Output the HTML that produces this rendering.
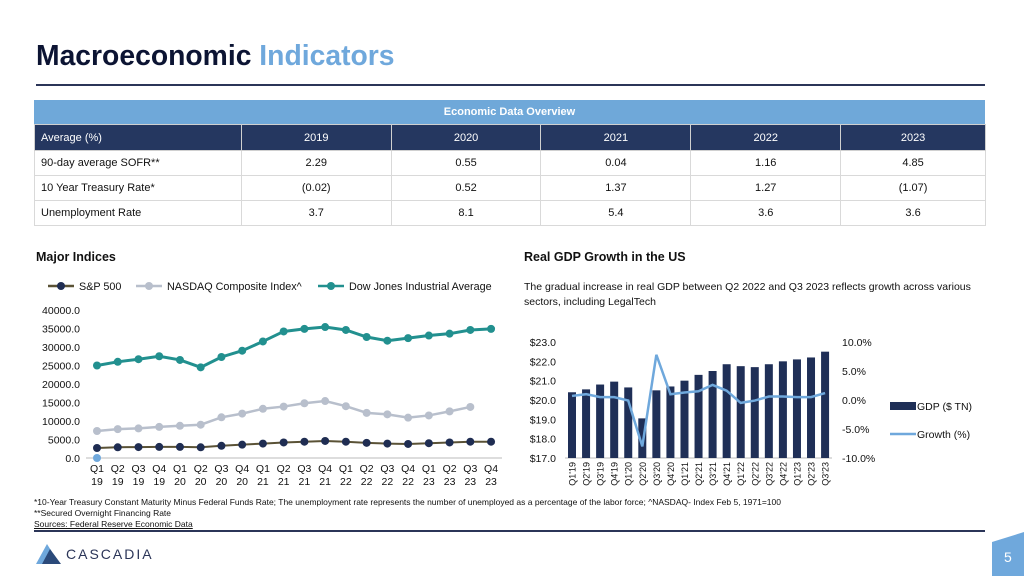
<!DOCTYPE html>
<html><head><meta charset="utf-8">
<style>
body{margin:0;width:1024px;height:576px;overflow:hidden;background:#fff;font-family:"Liberation Sans",sans-serif;position:relative}
.abs{position:absolute}
table{border-collapse:collapse;font-size:11px;color:#111}
td{border:1px solid #d9d9d9;height:24px;padding:0;text-align:center}
td.l{text-align:left;padding-left:6px}
tr.h td{background:#253760;color:#fff;border-color:#d0d0d0}
</style></head><body>
<div class="abs" style="left:36px;top:39px;font-size:28.3px;font-weight:bold;color:#0c1433">Macroeconomic <span style="color:#6fa8dc">Indicators</span></div>
<div class="abs" style="left:36px;top:84px;width:949px;height:2px;background:#2b3558"></div>
<div class="abs" style="left:34px;top:100px;width:951px;height:24px;background:#6fa8d9;color:#fff;font-weight:bold;font-size:11px;text-align:center;line-height:24px">Economic Data Overview</div>
<table class="abs" style="left:34px;top:124px;width:952px">
<colgroup><col style="width:207px"><col style="width:150px"><col style="width:150px"><col style="width:150px"><col style="width:150px"><col style="width:145px"></colgroup>
<tr class="h" style="height:26px"><td class="l">Average (%)</td><td>2019</td><td>2020</td><td>2021</td><td>2022</td><td>2023</td></tr>
<tr><td class="l">90-day average SOFR**</td><td>2.29</td><td>0.55</td><td>0.04</td><td>1.16</td><td>4.85</td></tr>
<tr><td class="l">10 Year Treasury Rate*</td><td>(0.02)</td><td>0.52</td><td>1.37</td><td>1.27</td><td>(1.07)</td></tr>
<tr><td class="l">Unemployment Rate</td><td>3.7</td><td>8.1</td><td>5.4</td><td>3.6</td><td>3.6</td></tr>
</table>
<div class="abs" style="left:36px;top:250px;font-size:12.5px;font-weight:bold;color:#111">Major Indices</div>
<div class="abs" style="left:524px;top:250px;font-size:12.5px;font-weight:bold;color:#111">Real GDP Growth in the US</div>
<div class="abs" style="left:524px;top:280px;width:470px;font-size:10.5px;line-height:15px;color:#111">The gradual increase in real GDP between Q2 2022 and Q3 2023 reflects growth across various sectors, including LegalTech</div>
<svg class="abs" id="left" style="left:0;top:270px" width="512" height="225"></svg>
<svg class="abs" id="right" style="left:512px;top:320px" width="480" height="175"></svg>
<div class="abs" style="left:34px;top:497px;font-size:8.5px;line-height:11px;color:#111">*10-Year Treasury Constant Maturity Minus Federal Funds Rate; The unemployment rate represents the number of unemployed as a percentage of the labor force; ^NASDAQ- Index Feb 5, 1971=100<br>**Secured Overnight Financing Rate<br><span style="text-decoration:underline">Sources: Federal Reserve Economic Data</span></div>
<div class="abs" style="left:34px;top:530px;width:951px;height:2px;background:#2b3558"></div>
<svg class="abs" style="left:34px;top:540px" width="130" height="26">
<polygon points="2,24 13,4 18,12 10,24" fill="#6fa8dc"/><polygon points="8,24 16,9 27,24" fill="#2b4a7a"/>
<text x="32" y="19" font-family="Liberation Sans" font-size="14" letter-spacing="2" fill="#2b3558">CASCADIA</text></svg>
<svg class="abs" style="left:992px;top:532px" width="32" height="44">
<polygon points="0,10 32,0 32,44 0,44" fill="#6fa8dc"/><text x="12" y="30" font-family="Liberation Sans" font-size="14" fill="#fff">5</text></svg>
<script>
const NS="http://www.w3.org/2000/svg";
function mk(p,t,a){const e=document.createElementNS(NS,t);for(const k in a)e.setAttribute(k,a[k]);p.appendChild(e);return e;}
// Left chart data
const qLabels=["Q1","Q2","Q3","Q4","Q1","Q2","Q3","Q4","Q1","Q2","Q3","Q4","Q1","Q2","Q3","Q4","Q1","Q2","Q3","Q4"];
const yLabels=["19","19","19","19","20","20","20","20","21","21","21","21","22","22","22","22","23","23","23","23"];
const dow=[25000,26000,26700,27500,26500,24500,27300,29000,31500,34200,34900,35400,34600,32700,31700,32400,33100,33600,34600,34900];
const nasdaq=[7300,7800,8000,8400,8700,9000,11000,12000,13300,13900,14800,15400,14000,12200,11800,10900,11500,12600,13800];
const sp=[2700,2900,2950,3000,3000,2900,3300,3600,3900,4200,4400,4600,4400,4100,3900,3800,4000,4200,4400,4400];
const leftTicks=[0,5000,10000,15000,20000,25000,30000,35000,40000];
// Right chart data
const gdpCats=["Q1'19","Q2'19","Q3'19","Q4'19","Q1'20","Q2'20","Q3'20","Q4'20","Q1'21","Q2'21","Q3'21","Q4'21","Q1'22","Q2'22","Q3'22","Q4'22","Q1'23","Q2'23","Q3'23"];
const gdp=[20.4,20.55,20.8,20.95,20.65,19.05,20.5,20.7,21.0,21.3,21.5,21.85,21.75,21.7,21.85,22.0,22.1,22.2,22.5];
const growth=[0.7,1.0,0.5,0.5,-0.1,-8.0,7.8,1.0,1.3,1.5,2.6,1.6,-0.5,-0.1,0.6,0.6,0.5,0.5,1.2];
const gdpTicks=[17,18,19,20,21,22,23];
const growthTicks=[-10,-5,0,5,10];

(function(){
const s=document.getElementById('left');
const x=i=>97+i*20.74, y=v=>188-v/40000*148;
leftTicks.forEach(t=>{const e=mk(s,'text',{x:80,y:y(t)+4,'text-anchor':'end','font-size':10.5,fill:'#111'});e.textContent=t.toFixed(1);
});
const ax=mk(s,'line',{x1:86,x2:502,y1:y(0),y2:y(0),stroke:'#bbb'});

qLabels.forEach((q,i)=>{const e=mk(s,'text',{x:x(i),y:y(0)+14,'text-anchor':'middle','font-size':10.5,fill:'#111'});e.textContent=q;

const f=mk(s,'text',{x:x(i),y:y(0)+27,'text-anchor':'middle','font-size':10.5,fill:'#111'});f.textContent=yLabels[i];
});
function series(d,col,lc,name,w){const p=mk(s,'polyline',{points:d.map((v,i)=>x(i)+','+y(v)).join(' '),fill:'none',stroke:lc,'stroke-width':w});

d.forEach((v,i)=>{const c=mk(s,'circle',{cx:x(i),cy:y(v),r:4,fill:col});});}
series(dow,'#22908f','#22908f','dow',3);
series(nasdaq,'#b8bfcc','#b8bfcc','nasdaq',2.5);
series(sp,'#1f2d52','#5a5236','sp500',2);
const z=mk(s,'circle',{cx:x(0),cy:y(0),r:4,fill:'#6fa8dc'});
const leg=[['S&P 500','#1f2d52','#5a5236',48],['NASDAQ Composite Index^','#b8bfcc','#b8bfcc',136],['Dow Jones Industrial Average','#22908f','#22908f',318]];
leg.forEach(l=>{const g=mk(s,'g',{});
mk(g,'line',{x1:l[3],x2:l[3]+26,y1:16,y2:16,stroke:l[2],'stroke-width':2.5});mk(g,'circle',{cx:l[3]+13,cy:16,r:4,fill:l[1]});
const t=mk(g,'text',{x:l[3]+31,y:20,'font-size':10.8,fill:'#111'});t.textContent=l[0];});
})();
(function(){
const s=document.getElementById('right');
const x=i=>60+i*14.06, y=v=>22+(23-v)/6*116, y2=v=>22+(10-v)/20*116, b=y(17);
gdpTicks.forEach(t=>{const e=mk(s,'text',{x:44,y:y(t)+4,'text-anchor':'end','font-size':10.5,fill:'#111'});e.textContent='$'+t.toFixed(1);
});
growthTicks.forEach(t=>{const e=mk(s,'text',{x:330,y:y2(t)+4,'font-size':10.5,fill:'#111'});e.textContent=t.toFixed(1)+'%';
});
const ax=mk(s,'line',{x1:53,x2:320,y1:b,y2:b,stroke:'#bbb'});
gdp.forEach((v,i)=>{const r=mk(s,'rect',{x:x(i)-4,y:y(v),width:8,height:b-y(v),fill:'#1f2f57'});
});
gdpCats.forEach((c,i)=>{const e=mk(s,'text',{x:0,y:0,transform:`translate(${x(i)+3.5},${b+4}) rotate(-90)`,'text-anchor':'end','font-size':9,fill:'#111'});e.textContent=c;
});
const p=mk(s,'polyline',{points:growth.map((v,i)=>x(i)+','+y2(v)).join(' '),fill:'none',stroke:'#6fa8dc','stroke-width':2.5});

const g1=mk(s,'g',{});
mk(g1,'rect',{x:378,y:82,width:26,height:8,fill:'#1f2f57'});const t1=mk(g1,'text',{x:405,y:90,'font-size':10.5,fill:'#111'});t1.textContent='GDP ($ TN)';
const g2=mk(s,'g',{});
mk(g2,'line',{x1:378,x2:404,y1:114,y2:114,stroke:'#6fa8dc','stroke-width':2.5});const t2=mk(g2,'text',{x:405,y:118,'font-size':10.5,fill:'#111'});t2.textContent='Growth (%)';
})();
</script>
</body></html>
